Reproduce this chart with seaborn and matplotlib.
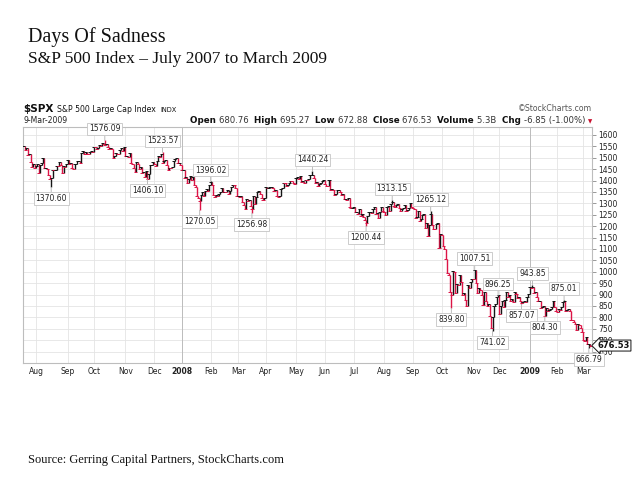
import numpy as np
import pandas as pd
import matplotlib
matplotlib.use("Agg")
import matplotlib.pyplot as plt
import seaborn as sns

# S&P 500 daily closes, one list per month (Jul 19 2007 .. Mar 9 2009)
jul07 = [1553.08, 1534.10, 1541.57, 1511.04, 1518.09, 1482.66, 1458.95, 1473.91, 1455.27]
aug07 = [1465.81, 1472.20, 1433.06, 1467.67, 1476.71, 1497.49, 1453.09, 1453.64, 1452.92, 1426.54,
         1406.70, 1411.27, 1445.94, 1445.55, 1447.12, 1464.07, 1462.50, 1479.37, 1466.79, 1432.36,
         1463.76, 1457.64, 1473.99]
sep07 = [1489.42, 1472.29, 1478.55, 1453.55, 1451.70, 1471.49, 1471.56, 1483.95, 1484.25, 1476.65,
         1519.78, 1529.03, 1518.75, 1525.75, 1517.73, 1517.21, 1525.42, 1531.38, 1526.75]
oct07 = [1547.04, 1546.63, 1539.59, 1542.84, 1557.59, 1552.58, 1565.15, 1562.47, 1554.41, 1561.80,
         1548.71, 1538.53, 1541.24, 1540.08, 1500.63, 1506.33, 1519.59, 1515.88, 1514.40, 1535.28,
         1540.98, 1531.02, 1549.38]
nov07 = [1508.44, 1509.65, 1502.17, 1520.27, 1475.62, 1474.77, 1453.70, 1439.18, 1481.05, 1470.58,
         1451.15, 1458.74, 1433.27, 1439.70, 1416.77, 1440.70, 1407.22, 1428.23, 1469.02, 1469.72,
         1481.14]
dec07 = [1472.42, 1462.79, 1485.01, 1507.34, 1504.66, 1515.96, 1477.65, 1486.59, 1488.41, 1467.95,
         1445.90, 1454.98, 1453.00, 1460.12, 1484.46, 1496.45, 1497.66, 1476.27, 1478.49, 1468.36]
jan08 = [1447.16, 1447.16, 1411.63, 1416.18, 1390.19, 1409.13, 1420.33, 1401.02, 1416.25, 1380.95,
         1373.20, 1333.25, 1325.19, 1310.50, 1338.60, 1352.07, 1330.61, 1353.96, 1362.30, 1355.81,
         1378.55]
feb08 = [1395.42, 1380.82, 1336.64, 1326.45, 1336.91, 1331.29, 1339.13, 1348.86, 1367.21, 1348.86,
         1349.99, 1348.78, 1360.03, 1342.53, 1353.11, 1371.80, 1381.29, 1380.02, 1367.68, 1330.63]
mar08 = [1331.34, 1326.75, 1333.70, 1304.34, 1293.37, 1273.37, 1320.65, 1308.77, 1315.48, 1288.14,
         1276.60, 1330.74, 1298.42, 1329.51, 1349.88, 1352.99, 1341.13, 1325.76, 1315.22, 1322.70]
apr08 = [1370.18, 1367.53, 1369.31, 1370.40, 1372.54, 1365.54, 1354.49, 1360.55, 1332.83, 1328.32,
         1334.43, 1364.71, 1365.56, 1390.33, 1388.17, 1375.94, 1379.93, 1388.82, 1397.84, 1396.37,
         1390.94, 1385.59]
may08 = [1409.34, 1413.90, 1407.49, 1418.26, 1392.57, 1397.68, 1388.28, 1403.58, 1403.04, 1408.66,
         1423.57, 1425.35, 1426.63, 1413.40, 1390.71, 1394.35, 1375.93, 1385.35, 1390.84, 1398.26,
         1400.38]
jun08 = [1385.67, 1377.65, 1377.20, 1404.05, 1360.68, 1361.76, 1358.44, 1335.49, 1339.87, 1360.03,
         1360.14, 1350.93, 1337.81, 1342.83, 1317.93, 1318.00, 1314.29, 1321.97, 1283.15, 1278.38,
         1280.00]
jul08 = [1284.91, 1261.52, 1262.90, 1252.31, 1273.70, 1244.69, 1253.39, 1239.49, 1228.30, 1214.91,
         1245.36, 1260.32, 1260.68, 1260.00, 1277.00, 1282.19, 1252.54, 1257.76, 1234.37, 1263.20,
         1284.26, 1267.38]
aug08 = [1260.31, 1249.01, 1284.88, 1289.19, 1266.07, 1296.32, 1305.32, 1289.59, 1285.83, 1292.93,
         1298.20, 1278.60, 1266.69, 1274.54, 1277.72, 1292.20, 1266.84, 1271.51, 1281.66, 1300.68,
         1282.83]
sep08 = [1277.58, 1274.98, 1236.83, 1242.31, 1267.79, 1224.51, 1232.04, 1249.05, 1251.70, 1192.70,
         1213.60, 1156.39, 1206.51, 1255.08, 1207.09, 1188.22, 1185.87, 1209.18, 1213.27, 1106.42,
         1166.36]
oct08 = [1161.06, 1114.28, 1099.23, 1056.89, 996.23, 984.94, 909.92, 899.22, 1003.35, 998.01,
         907.84, 946.43, 940.55, 985.40, 955.05, 896.78, 908.11, 876.77, 848.92, 940.51,
         930.09, 954.09, 968.75]
nov08 = [966.30, 1005.75, 952.77, 904.88, 930.99, 919.21, 898.95, 852.30, 911.29, 873.29,
         850.75, 859.12, 806.58, 752.44, 800.03, 851.81, 857.39, 887.68, 896.24]
dec08 = [816.21, 848.81, 870.74, 845.22, 876.07, 909.70, 888.67, 899.24, 873.59, 879.73,
         868.57, 913.18, 904.42, 885.28, 887.88, 871.63, 863.16, 868.15, 872.80, 869.42,
         890.64, 903.25]
jan09 = [931.80, 927.45, 934.70, 906.65, 909.73, 890.35, 870.26, 871.79, 842.62, 843.74,
         850.12, 805.22, 840.24, 827.50, 831.95, 836.57, 845.71, 874.09, 845.14, 825.88]
feb09 = [825.44, 838.51, 832.23, 845.85, 868.60, 869.89, 827.16, 833.74, 835.19, 826.84,
         789.17, 788.42, 778.94, 770.05, 743.33, 773.14, 764.90, 752.83, 735.09]
mar09 = [700.82, 696.33, 712.87, 682.55, 683.38, 676.53]

first_day = "2007-07-19"
last_day = "2009-03-09"
holidays = ["2007-09-03", "2007-11-22", "2007-12-25", "2008-01-01", "2008-01-21", "2008-02-18",
            "2008-03-21", "2008-05-26", "2008-07-04", "2008-09-01", "2008-11-27", "2008-12-25",
            "2009-01-01", "2009-01-19", "2009-02-16"]

# labelled swing highs / lows
event_dates = ["2007-08-16", "2007-10-11", "2007-11-26", "2007-12-11", "2008-01-22", "2008-02-01",
               "2008-03-17", "2008-05-19", "2008-07-15", "2008-08-11", "2008-09-19", "2008-10-10",
               "2008-11-04", "2008-11-21", "2008-11-28", "2008-12-23", "2009-01-06", "2009-01-20",
               "2009-02-09", "2009-03-06"]
event_values = [1370.60, 1576.09, 1406.10, 1523.57, 1270.05, 1396.02, 1256.98, 1440.24, 1200.44,
                1313.15, 1265.12, 839.80, 1007.51, 741.02, 896.25, 857.07, 943.85, 804.30,
                875.01, 666.79]
event_kinds = ["low", "high", "low", "high", "low", "high", "low", "high", "low",
               "high", "high", "low", "high", "low", "high", "low", "high", "low",
               "high", "low"]

quote_labels = ["Open", "High", "Low", "Close", "Volume", "Chg"]
quote_values = ["680.76", "695.27", "672.88", "676.53", "5.3B", "-6.85 (-1.00%)"]
last_close = 676.53

closes = (jul07 + aug07 + sep07 + oct07 + nov07 + dec07 + jan08 + feb08 + mar08 + apr08 + may08
          + jun08 + jul08 + aug08 + sep08 + oct08 + nov08 + dec08 + jan09 + feb09 + mar09)
dates = pd.bdate_range(first_day, last_day, freq="C", holidays=holidays)

df = pd.DataFrame({"date": dates, "close": closes})
df["idx"] = np.arange(len(df))
df["prev"] = df["close"].shift(1).fillna(df["close"])
df["lo"] = df[["prev", "close"]].min(axis=1)
df["hi"] = df[["prev", "close"]].max(axis=1)
df["dir"] = np.where(df["close"] >= df["prev"], "up", "down")

ev = pd.DataFrame({"date": pd.to_datetime(event_dates), "value": event_values, "kind": event_kinds})
ev["idx"] = ev["date"].map(dict(zip(df["date"], df["idx"])))
for _, r in ev.iterrows():
    if r["kind"] == "high":
        df.loc[r["idx"], "hi"] = max(df.loc[r["idx"], "hi"], r["value"])
    else:
        df.loc[r["idx"], "lo"] = min(df.loc[r["idx"], "lo"], r["value"])

sns.set_style("white")
plt.rcParams["font.family"] = ["DejaVu Sans"]

W, H = 640, 480
fig = plt.figure(figsize=(6.4, 4.8), dpi=100)


def px(x, y):
    return x / W, 1 - y / H


ax = fig.add_axes([23 / W, 1 - 363 / H, 569 / W, 236 / H])

palette = {"up": "#151515", "down": "#dc1446"}
for d, g in df.groupby("dir"):
    ax.vlines(g["idx"], g["lo"], g["hi"], color=palette[d], lw=1.0, zorder=3)
sns.scatterplot(data=df, x="idx", y="close", hue="dir", palette=palette, marker="_",
                s=5, linewidth=0.7, legend=False, ax=ax, zorder=3)

# month gridlines / labels
starts = df.groupby([df["date"].dt.year, df["date"].dt.month])["idx"].min().iloc[1:]
tick_pos = list(starts.values)
tick_lab = []
for i in tick_pos:
    d = df.loc[i, "date"]
    tick_lab.append(str(d.year) if d.month == 1 else d.strftime("%b"))
ax.set_xticks(tick_pos)
ax.set_xticklabels(tick_lab)
for t in ax.get_xticklabels():
    if t.get_text().isdigit():
        t.set_fontweight("bold")
        t.set_fontsize(6.5)

ax.set_xlim(-0.5, len(df) + 0.3)
ax.set_ylim(600, 1635)
ax.set_yticks(np.arange(650, 1601, 50))
ax.yaxis.tick_right()
ax.tick_params(axis="y", length=3, width=0.6, pad=1.5, labelsize=5.5, color="#888888", labelcolor="#222222")
ax.tick_params(axis="x", length=0, pad=3, labelsize=5.5, labelcolor="#222222")
ax.set_xlabel("")
ax.set_ylabel("")
ax.grid(True, color="#e4e4e4", lw=0.6, zorder=0)
for i in tick_pos:
    if df.loc[i, "date"].month == 1:
        ax.axvline(i, color="#bcbcbc", lw=0.7, zorder=1)
for s in ax.spines.values():
    s.set_color("#bdbdbd")
    s.set_linewidth(0.8)

for _, r in ev.iterrows():
    high = r["kind"] == "high"
    ax.annotate(f"{r['value']:.2f}", xy=(r["idx"], r["value"]),
                xytext=(0, 5 if high else -5), textcoords="offset points",
                ha="center", va="bottom" if high else "top", fontsize=5.5, color="#222222",
                bbox=dict(boxstyle="square,pad=0.25", fc="white", ec="#c4c4c4", lw=0.6),
                arrowprops=dict(arrowstyle="-", color="#b0b0b0", lw=0.6, shrinkA=0, shrinkB=0),
                zorder=5, annotation_clip=False)

ax.annotate(f"{last_close:.2f}", xy=(1.0, last_close), xycoords=("axes fraction", "data"),
            xytext=(4, 0), textcoords="offset points", ha="left", va="center",
            fontsize=6, fontweight="bold", color="#111111",
            bbox=dict(boxstyle="larrow,pad=0.12", fc="white", ec="#111111", lw=0.7),
            zorder=6, annotation_clip=False)

# titles
serif = ["Liberation Serif", "DejaVu Serif"]
fig.text(*px(28, 42), "Days Of Sadness", family=serif, fontsize=14.5, va="baseline", color="#111111")
fig.text(*px(28, 63), "S&P 500 Index \u2013 July 2007 to March 2009", family=serif, fontsize=12.5,
         va="baseline", color="#111111")
fig.text(*px(28, 463), "Source: Gerring Capital Partners, StockCharts.com", family=serif, fontsize=9,
         va="baseline", color="#111111")

# StockCharts header
fig.text(*px(23, 112), "$SPX", fontsize=7.5, fontweight="bold", va="baseline", color="#111111")
fig.text(*px(57, 112), "S&P 500 Large Cap Index", fontsize=5.6, va="baseline", color="#111111")
fig.text(*px(160, 112), "INDX", fontsize=4.8, va="baseline", color="#111111")
fig.text(*px(592, 111), "\u00a9StockCharts.com", fontsize=5.6, va="baseline", ha="right", color="#555555")
fig.text(*px(23, 123), "9-Mar-2009", fontsize=5.6, va="baseline", color="#222222")

renderer = fig.canvas.get_renderer()
x = 190.0
for k, (lab, val) in enumerate(zip(quote_labels, quote_values)):
    t = fig.text(*px(x, 123), lab + " ", fontsize=6.3, fontweight="bold", va="baseline", color="#111111")
    x += t.get_window_extent(renderer).width
    gap = "  " if k < len(quote_labels) - 1 else " "
    t = fig.text(*px(x, 123), val + gap, fontsize=6.1, va="baseline", color="#333333")
    x += t.get_window_extent(renderer).width
fig.text(*px(x, 123), "\u25bc", fontsize=4, va="baseline", color="#c8102e")

fig.savefig("out.png", dpi=100)
